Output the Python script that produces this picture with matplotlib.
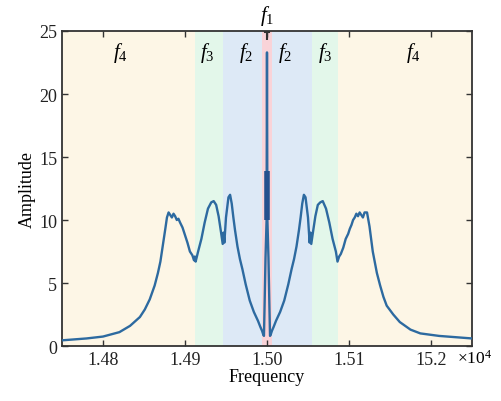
#!/usr/bin/env python3
import matplotlib
matplotlib.use("Agg")
import matplotlib.pyplot as plt

plt.rcParams['font.family'] = ['Liberation Serif', 'DejaVu Serif']
plt.rcParams['mathtext.fontset'] = 'custom'
plt.rcParams['mathtext.rm'] = 'Liberation Serif'
plt.rcParams['mathtext.it'] = 'Liberation Serif:italic'

## spectrum (Hz, amplitude)
freq = [14750, 14780, 14800, 14820, 14833, 14845, 14851, 14857, 14863, 14867,
        14870, 14873, 14876, 14878, 14880, 14882, 14884, 14886, 14888, 14890,
        14892, 14894, 14897, 14900, 14903, 14906, 14909, 14911, 14912, 14913,
        14916, 14920, 14924, 14928, 14932, 14935, 14938, 14941, 14944, 14946,
        14947, 14948, 14950, 14953, 14955, 14957, 14959, 14961, 14964, 14967,
        14970, 14974, 14979, 14984, 14989, 14992, 14994, 14995.5, 14996.3, 14997,
        14998.2, 14999.5, 15000, 15000.5, 15001.8, 15003, 15003.7, 15004.5, 15006, 15008,
        15011, 15016, 15021, 15026, 15030, 15033, 15036, 15039, 15041, 15043,
        15045, 15047, 15050, 15052, 15053, 15054, 15056, 15059, 15062, 15065,
        15068, 15072, 15076, 15080, 15084, 15086, 15088, 15090, 15093, 15096,
        15099, 15101, 15103, 15105, 15107, 15109, 15111, 15113, 15115, 15117,
        15119, 15122, 15125, 15129, 15134, 15138, 15142, 15146, 15154, 15162,
        15175, 15187, 15210, 15230, 15250]
amp = [0.45, 0.6, 0.75, 1.1, 1.6, 2.3, 2.9, 3.7, 4.8, 5.8,
       6.7, 8.0, 9.3, 10.2, 10.6, 10.4, 10.2, 10.5, 10.3, 10.0,
       10.1, 9.8, 9.4, 8.8, 8.2, 7.5, 7.2, 6.8, 7.1, 6.7,
       7.5, 8.5, 9.8, 10.9, 11.4, 11.5, 11.2, 10.3, 9.0, 8.1,
       9.0, 8.2, 10.2, 11.8, 12.0, 11.3, 10.2, 9.2, 7.9, 6.9,
       6.1, 4.9, 3.6, 2.7, 2.0, 1.5, 1.2, 0.9, 0.8, 3.0,
       7.0, 10.0, 23.3, 10.0, 7.0, 3.0, 0.8, 0.9, 1.2, 1.5,
       2.0, 2.7, 3.6, 4.9, 6.1, 6.9, 7.9, 9.2, 10.2, 11.3,
       12.0, 11.8, 10.2, 8.2, 9.0, 8.1, 9.0, 10.3, 11.2, 11.4,
       11.5, 10.9, 9.8, 8.5, 7.5, 6.7, 7.1, 7.3, 7.8, 8.5,
       8.9, 9.3, 9.6, 10.0, 10.2, 10.5, 10.3, 10.6, 10.4, 10.2,
       10.6, 10.6, 9.5, 7.5, 5.8, 4.8, 3.9, 3.2, 2.5, 1.9,
       1.3, 1.0, 0.8, 0.7, 0.6]

## thick stretch of the centre line and its cap at the top
centre_thick = [10.0, 13.9]
centre_cap = [24.3, 25.0]
centre_freq = 15000

## shaded bands
band_edges = [14750, 14912, 14946, 14994, 15006, 15055, 15087, 15250]
band_colors = ['#fdf6e6', '#e3f7ea', '#dde9f6', '#f9d3d8', '#dde9f6', '#e3f7ea', '#fdf6e6']
band_labels = ['$f_4$', '$f_3$', '$f_2$', None, '$f_2$', '$f_3$', '$f_4$']
label_x = [14821, 14927, 14975, None, 15022, 15071, 15178]

xticks = [14800, 14900, 15000, 15100, 15200]
xticklabels = ['1.48', '1.49', '1.50', '1.51', '15.2']
yticks = [0, 5, 10, 15, 20, 25]

fig = plt.figure(figsize=(5.02, 4.02), dpi=100)
ax = fig.add_axes([0.1235, 0.1368, 0.8167, 0.7836])

for i in range(len(band_colors)):
    ax.axvspan(band_edges[i], band_edges[i+1], color=band_colors[i], lw=0, zorder=0)
    if band_labels[i]:
        ax.text(label_x[i], 23.3, band_labels[i], ha='center', va='center', fontsize=15)

ax.plot(freq, amp, color='#2d6aa0', lw=1.7, zorder=3)
ax.plot([centre_freq, centre_freq], centre_thick, color='#24508e', lw=4, solid_capstyle='butt', zorder=4)
ax.plot([centre_freq, centre_freq], centre_cap, color='#333333', lw=1.5, solid_capstyle='butt', zorder=4, clip_on=False)
ax.plot([centre_freq - 3, centre_freq + 3], [centre_cap[1] - 0.1] * 2, color='#333333', lw=1.5, zorder=4)

ax.set_xlim(14750, 15250)
ax.set_ylim(0, 25)
ax.set_xticks(xticks)
ax.set_xticklabels(xticklabels)
ax.set_yticks(yticks)
ax.tick_params(direction='in', top=True, right=True, labelsize=13, length=4, width=1, colors='#333333', labelcolor='#222222')
for s in ax.spines.values():
    s.set_linewidth(1.3)
    s.set_color('#333333')

ax.set_xlabel('Frequency', fontsize=13, labelpad=0)
ax.set_ylabel('Amplitude', fontsize=13, labelpad=2)
ax.text(15000, 25.3, '$f_1$', ha='center', va='bottom', fontsize=15)
ax.text(0.963, -0.037, r'$\times$10$^4$', transform=ax.transAxes, ha='left', va='center', fontsize=12.5)

fig.savefig('out.png', dpi=100)
